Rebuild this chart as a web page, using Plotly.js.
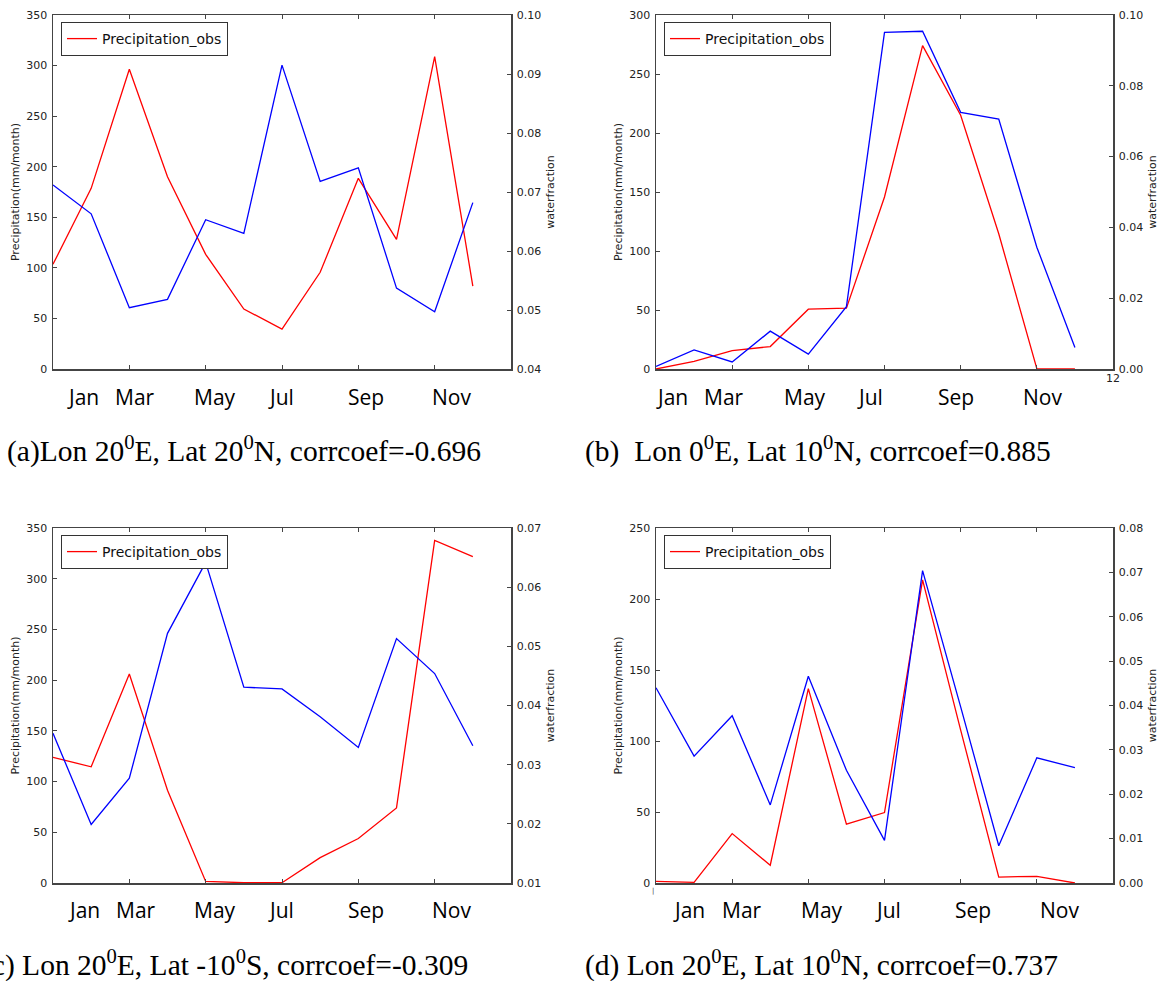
<!DOCTYPE html>
<html>
<head>
<meta charset="utf-8">
<script src="https://cdn.plot.ly/plotly-3.0.1.min.js"></script>
<style>html,body{margin:0;padding:0;background:#fff;}#chart{width:1166px;height:981px;}</style>
</head>
<body>
<div id="chart"></div>
<script>
// ---- data ----
const monthIndex = [0,1,2,3,4,5,6,7,8,9,10,11];
const monthLabels = ['Jan','Mar','May','Jul','Sep','Nov'];
const monthPosA = [0.78,2.15,4.24,5.98,8.2,10.45];
const monthPosB = [0.41,1.79,3.9,5.63,7.87,10.15];
const monthPosC = [0.8,2.17,4.24,5.98,8.2,10.43];
const monthPosD = [0.86,2.25,4.35,6.09,8.33,10.6];

const precipA = [103.5,178.6,296.3,190,113.4,59.3,39.5,95.6,188.5,128.2,308.8,82];
const waterA  = [0.0712,0.0663,0.0504,0.0518,0.0653,0.0630,0.0915,0.0718,0.0741,0.0537,0.0497,0.0682];
const precipB = [0,6.5,15.6,19,50.7,51.5,145.8,274,215,114.6,0.3,0];
const waterB  = [0.0007,0.0054,0.0020,0.0107,0.0042,0.0176,0.0951,0.0954,0.0725,0.0706,0.0344,0.0061];
const precipC = [123.8,114.6,206.1,91.5,1.6,0.3,0.3,25,43.8,74,337.8,321.7];
const waterC  = [0.0353,0.0199,0.0277,0.0522,0.0642,0.0431,0.0428,0.0381,0.0329,0.0513,0.0454,0.0332];
const precipD = [1.2,0.5,34.8,12.5,136.9,41.4,49.6,213.5,107.7,4.2,4.7,0];
const waterD  = [0.0440,0.0286,0.0377,0.0176,0.0466,0.0254,0.0096,0.0704,0.0397,0.0084,0.0282,0.0260];

const captions = [
  '(a)Lon 20<sup>0</sup>E, Lat 20<sup>0</sup>N, corrcoef=-0.696',
  '(b)\u00a0 Lon 0<sup>0</sup>E, Lat 10<sup>0</sup>N, corrcoef=0.885',
  '(c) Lon 20<sup>0</sup>E, Lat -10<sup>0</sup>S, corrcoef=-0.309',
  '(d) Lon 20<sup>0</sup>E, Lat 10<sup>0</sup>N, corrcoef=0.737'
];
const leftRanges = [[0,350],[0,300],[0,350],[0,250]];
const rightRanges = [[0.04,0.10],[0,0.10],[0.01,0.07],[0,0.08]];
const rightDticks = [0.01,0.02,0.01,0.01];

// ---- layout geometry (pixels) ----
const W = 1166, H = 981;
const panels = [
  {x0:53, x1:511, y0:15, y1:369, precip:precipA, water:waterA, mpos:monthPosA, labelY:397, capY:449, capX:5, capAnchor:'left'},
  {x0:656, x1:1113, y0:15, y1:369, precip:precipB, water:waterB, mpos:monthPosB, labelY:397, capY:449, capX:583, capAnchor:'left'},
  {x0:53, x1:511, y0:528, y1:883, precip:precipC, water:waterC, mpos:monthPosC, labelY:910, capY:963, capX:470, capAnchor:'right'},
  {x0:656, x1:1113, y0:528, y1:883, precip:precipD, water:waterD, mpos:monthPosD, labelY:910, capY:963, capX:583, capAnchor:'left'}
];
const px = v => v / W;
const py = v => 1 - v / H;

const axisColor = '#444';
const tickFont = {family:'DejaVu Sans', size:11, color:'#222'};
const traces = [];
const layout = {
  width: W, height: H,
  margin: {l:0, r:0, t:0, b:0},
  paper_bgcolor: '#fff', plot_bgcolor: '#fff',
  showlegend: true,
  annotations: []
};

panels.forEach((p, i) => {
  const xn = i === 0 ? '' : String(i + 1);
  const yl = i === 0 ? '' : String(2 * i + 1);
  const yr = String(2 * i + 2);
  const xId = 'x' + xn, ylId = 'y' + yl, yrId = 'y' + yr;
  const legId = i === 0 ? 'legend' : 'legend' + (i + 1);

  layout['xaxis' + xn] = {
    domain: [px(p.x0), px(p.x1)], anchor: ylId, range: [0, 12],
    tickvals: [0,2,4,6,8,10,12], showticklabels: false,
    ticks: 'inside', ticklen: 4, tickcolor: axisColor, tickwidth: 1,
    showline: true, linecolor: axisColor, linewidth: 1.5, mirror: 'ticks',
    showgrid: false, zeroline: false, fixedrange: true
  };
  layout['yaxis' + yl] = {
    domain: [py(p.y1), py(p.y0)], anchor: xId, range: leftRanges[i], dtick: 50,
    ticks: 'inside', ticklen: 4, tickcolor: axisColor, tickwidth: 1,
    showline: true, linecolor: axisColor, linewidth: 1.5,
    showgrid: false, zeroline: false, tickfont: tickFont, ticklabelstandoff: 2,
    title: {text: 'Precipitation(mm/month)', font: {family:'DejaVu Sans', size:11, color:'#222'}, standoff: 4},
    fixedrange: true
  };
  layout['yaxis' + yr] = {
    overlaying: ylId, anchor: xId, side: 'right', range: rightRanges[i], dtick: rightDticks[i],
    tickformat: '.2f',
    ticks: 'inside', ticklen: 4, tickcolor: axisColor, tickwidth: 1,
    showline: true, linecolor: axisColor, linewidth: 1.5,
    showgrid: false, zeroline: false, tickfont: tickFont, ticklabelstandoff: 2,
    title: {text: 'waterfraction', font: {family:'DejaVu Sans', size:11, color:'#222'}, standoff: 6},
    fixedrange: true
  };
  layout[legId] = {
    x: px(p.x0 + 8), y: py(p.y0 + 7), xanchor: 'left', yanchor: 'top',
    bgcolor: '#fff', bordercolor: '#333', borderwidth: 1,
    font: {family:'DejaVu Sans', size:14, color:'#111'}
  };

  traces.push({
    x: monthIndex, y: p.precip, xaxis: xId, yaxis: ylId, type: 'scatter', mode: 'lines',
    name: 'Precipitation_obs', line: {color: '#ff0000', width: 1.3}, legend: legId, showlegend: true
  });
  traces.push({
    x: monthIndex, y: p.water, xaxis: xId, yaxis: yrId, type: 'scatter', mode: 'lines',
    name: 'waterfraction', line: {color: '#0000ff', width: 1.3}, showlegend: false
  });

  p.mpos.forEach((m, k) => {
    layout.annotations.push({
      x: m, xref: xId, y: py(p.labelY), yref: 'paper', text: monthLabels[k],
      showarrow: false, xanchor: 'center', yanchor: 'middle',
      font: {family: 'Open Sans', size: 21, color: '#000'}
    });
  });
  layout.annotations.push({
    x: px(p.capX), xref: 'paper', y: py(p.capY), yref: 'paper', text: captions[i],
    showarrow: false, xanchor: p.capAnchor, yanchor: 'middle',
    font: {family: 'Liberation Serif', size: 29.5, color: '#000'}
  });
});

// stray tick-label remnants left in the original figure
layout.annotations.push({
  x: 12, xref: 'x2', y: py(378), yref: 'paper', text: '12', showarrow: false,
  xanchor: 'center', yanchor: 'middle', font: {family:'DejaVu Sans', size: 11, color: '#222'}
});
layout.annotations.push({
  x: px(653), xref: 'paper', y: py(891), yref: 'paper', text: '|', showarrow: false,
  xanchor: 'center', yanchor: 'middle', font: {family:'DejaVu Sans', size: 7, color: '#444'}
});

Plotly.newPlot('chart', traces, layout, {displayModeBar: false, staticPlot: true});
</script>
</body>
</html>
